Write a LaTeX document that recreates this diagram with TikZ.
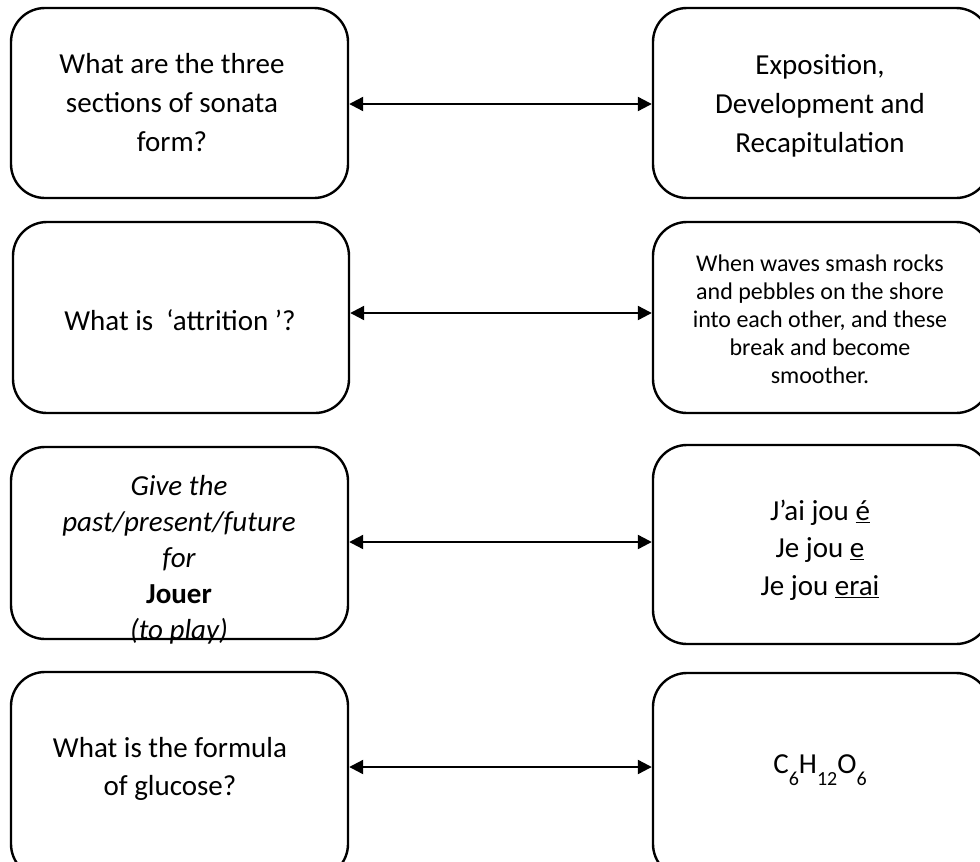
\documentclass[tikz,border=0pt]{standalone}
\usepackage{fontspec}
\setmainfont{Carlito}
\usetikzlibrary{arrows.meta}
\begin{document}
\begin{tikzpicture}[x=1pt,y=-1pt,
  qbox/.style={draw=black,line width=2.4pt,rounded corners=34pt,minimum width=337pt,inner sep=0pt},
  qtext/.style={align=center,inner sep=0pt,font=\fontsize{29}{39}\selectfont},
  link/.style={line width=2.2pt,{Triangle[length=14pt,width=14pt]}-{Triangle[length=14pt,width=14pt]}}]
\useasboundingbox (0,0) rectangle (980,862);
\clip (0,0) rectangle (980,862);
% boxes
\node[qbox,minimum height=190pt] (b1l) at (179.5,103) {};
\node[qbox,minimum height=190pt] (b1r) at (821.5,103) {};
\node[qbox,minimum height=191pt,minimum width=336pt] (b2l) at (181,317.5) {};
\node[qbox,minimum height=191pt] (b2r) at (821.5,317.5) {};
\node[qbox,minimum height=192pt] (b3l) at (179.5,543) {};
\node[qbox,minimum height=199pt] (b3r) at (821.5,544.5) {};
\node[qbox,minimum height=206pt] (b4l) at (179.5,775) {};
\node[qbox,minimum height=205pt] (b4r) at (821.5,775.5) {};
% texts
\node[qtext] (t1l) at (172,103) {What are the three\\sections of sonata\\form?};
\node[qtext] (t1r) at (820,106) {Exposition,\\Development and\\Recapitulation};
\node[qtext] (t2l) at (180,320) {What is\ \ ‘attrition ’?};
\node[qtext,font=\fontsize{24}{28}\selectfont] (t2r) at (820,319) {When waves smash rocks\\and pebbles on the shore\\into each other, and these\\break and become\\smoother.};
\node[qtext,font=\fontsize{29}{36}\selectfont] (t3l) at (179,560) {\itshape Give the\\\itshape past/present/future\\\itshape for\\\bfseries Jouer\\\itshape (to play)};
\node[qtext,font=\fontsize{29}{37.5}\selectfont] (t3r) at (820,550) {J’ai jou \underline{é}\\Je jou \underline{e}\\Je jou \underline{erai}};
\node[qtext,font=\fontsize{29}{38}\selectfont] (t4l) at (170,769) {What is the formula\\of glucose?};
\node[qtext] (t4r) at (820,770) {C\raisebox{-12pt}{\fontsize{20}{20}\selectfont 6}H\raisebox{-12pt}{\fontsize{20}{20}\selectfont 12}O\raisebox{-12pt}{\fontsize{20}{20}\selectfont 6}};
% connectors
\coordinate (a1) at ([yshift=-1pt]b1l.east);
\coordinate (a2) at ([yshift=4.5pt]b2l.east);
\coordinate (a3) at ([yshift=1pt]b3l.east);
\coordinate (a4) at ([yshift=8pt]b4l.east);
\draw[link] (a1) -- (a1 -| b1r.west);
\draw[link] (a2) -- (a2 -| b2r.west);
\draw[link] (a3) -- (a3 -| b3r.west);
\draw[link] (a4) -- (a4 -| b4r.west);
\end{tikzpicture}
\end{document}
